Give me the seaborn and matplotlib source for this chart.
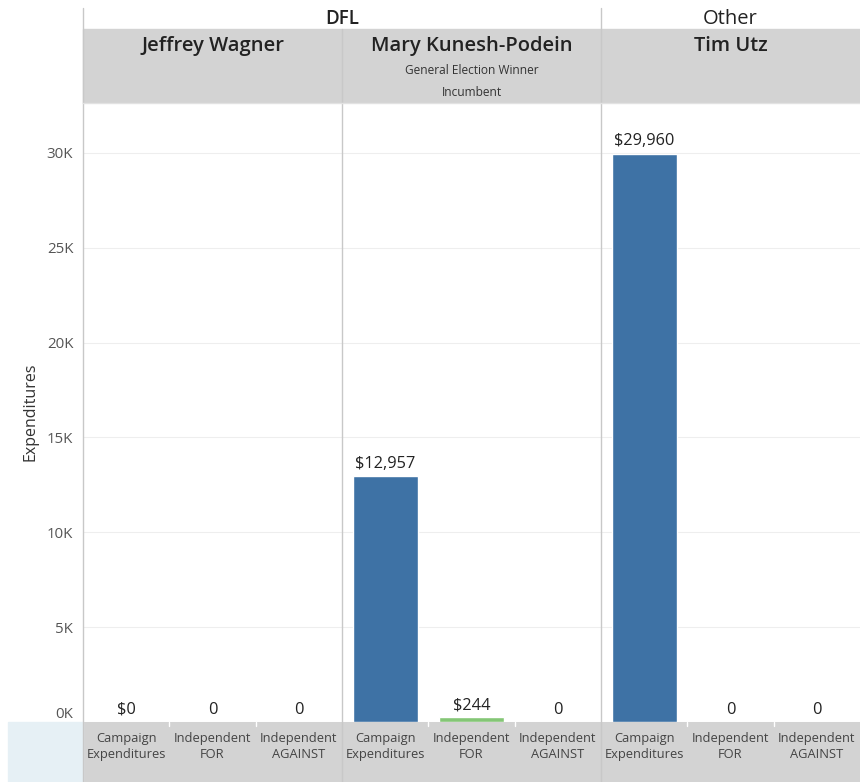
import matplotlib
matplotlib.use("Agg")
import matplotlib.pyplot as plt
from matplotlib.patches import Rectangle
from matplotlib.lines import Line2D
from matplotlib.ticker import FuncFormatter
import pandas as pd
import seaborn as sns

# ── Données ────────────────────────────────────────────────────────────────
parties     = ["DFL", "DFL", "Other"]
candidates  = ["Jeffrey Wagner", "Mary Kunesh-Podein", "Tim Utz"]
subtitles   = ["", "General Election Winner\nIncumbent", ""]
categories  = ["Campaign Expenditures", "Independent FOR", "Independent AGAINST"]
cat_ticks   = ["Campaign\nExpenditures", "Independent\nFOR", "Independent\nAGAINST"]
wagner_vals = [0, 0, 0]
kunesh_vals = [12957, 244, 0]
utz_vals    = [29960, 0, 0]
wagner_lbls = ["$0", "0", "0"]
kunesh_lbls = ["$12,957", "$244", "0"]
utz_lbls    = ["$29,960", "0", "0"]

values = [wagner_vals, kunesh_vals, utz_vals]
labels = [wagner_lbls, kunesh_lbls, utz_lbls]
palette = {categories[0]: "#3e72a5", categories[1]: "#84c676", categories[2]: "#e15759"}

sns.set_style("white")
plt.rcParams["font.family"] = ["Open Sans", "DejaVu Sans"]

W, H = 860, 782
fx = lambda x: x / W
fy = lambda y: 1 - y / H

fig = plt.figure(figsize=(8.6, 7.82), dpi=100)

# ── Bandeaux ───────────────────────────────────────────────────────────────
fig.add_artist(Rectangle((fx(83), fy(103)), fx(860) - fx(83), fy(29) - fy(103),
                         transform=fig.transFigure, color="#d3d3d3", zorder=-1))
fig.add_artist(Rectangle((fx(83), fy(782)), fx(860) - fx(83), fy(722) - fy(782),
                         transform=fig.transFigure, color="#d3d3d3", zorder=-1))
fig.add_artist(Rectangle((fx(8), fy(782)), fx(83) - fx(8), fy(722) - fy(782),
                         transform=fig.transFigure, color="#e6f0f5", zorder=-1))

YMAX = 32630
panel_x = [83, 342, 601]
pw = 259
for i, x0 in enumerate(panel_x):
    ax = fig.add_axes([fx(x0), fy(722), pw / W, (722 - 103) / H])
    df = pd.DataFrame({"category": categories, "value": values[i]})
    sns.barplot(data=df, x="category", y="value", hue="category", order=categories,
                palette=palette, width=0.75, legend=False, ax=ax, saturation=1)
    ax.set_ylim(0, YMAX)
    ax.set_xlim(-0.5, 2.5)
    ax.set_yticks(range(0, 30001, 5000))
    ax.yaxis.grid(True, color="#eeeeee", linewidth=0.8)
    ax.set_axisbelow(True)
    for s in ax.spines.values():
        s.set_visible(False)
    ax.set_xlabel("")
    ax.set_ylabel("")
    ax.set_xticks(range(3))
    ax.set_xticklabels(cat_ticks, fontsize=9.3, color="#444444", linespacing=1.35)
    ax.tick_params(axis="x", length=0, pad=7)
    if i == 0:
        ax.yaxis.set_major_formatter(FuncFormatter(lambda v, p: f"{int(v/1000)}K"))
        ax.tick_params(axis="y", length=0, labelsize=10.8, labelcolor="#555555", pad=7)
        ax.get_yticklabels()[0].set_va("bottom")
    else:
        ax.tick_params(axis="y", left=False, labelleft=False)
    for j, lbl in enumerate(labels[i]):
        ax.annotate(lbl, (j, values[i][j]), xytext=(0, 3), textcoords="offset points",
                    ha="center", va="bottom", fontsize=11.8, color="#222222")
    # candidats
    cx = fx(x0 + pw / 2)
    fig.text(cx, fy(46), candidates[i], ha="center", va="center",
             fontsize=14.5, fontweight="semibold", color="#222222")
    if subtitles[i]:
        for k, line in enumerate(subtitles[i].split("\n")):
            fig.text(cx, fy(71 + 21 * k), line, ha="center", va="center",
                     fontsize=8.6, color="#333333")
    # petits repères blancs dans le bandeau bas
    for b in (1, 2):
        xb = x0 + pw * b / 3
        fig.add_artist(Line2D([fx(xb), fx(xb)], [fy(722), fy(726)],
                              transform=fig.transFigure, color="white", lw=1))

# partis
fig.text(fx(342), fy(19), "DFL", ha="center", va="center", fontsize=13.5,
         fontweight="semibold", color="#222222")
fig.text(fx(730), fy(19), "Other", ha="center", va="center", fontsize=14.5, color="#222222")

# séparateurs
for x, ytop in [(83, 8), (342, 29), (601, 8)]:
    fig.add_artist(Line2D([fx(x), fx(x)], [fy(ytop), fy(782)],
                          transform=fig.transFigure, color="#c8c8c8", lw=1))
fig.add_artist(Line2D([fx(83), fx(860)], [fy(103), fy(103)],
                      transform=fig.transFigure, color="#e2e2e2", lw=1))

fig.text(fx(30), fy(412), "Expenditures", rotation=90, ha="center", va="center",
         fontsize=11.5, color="#333333")

fig.savefig("out.png", dpi=100)
